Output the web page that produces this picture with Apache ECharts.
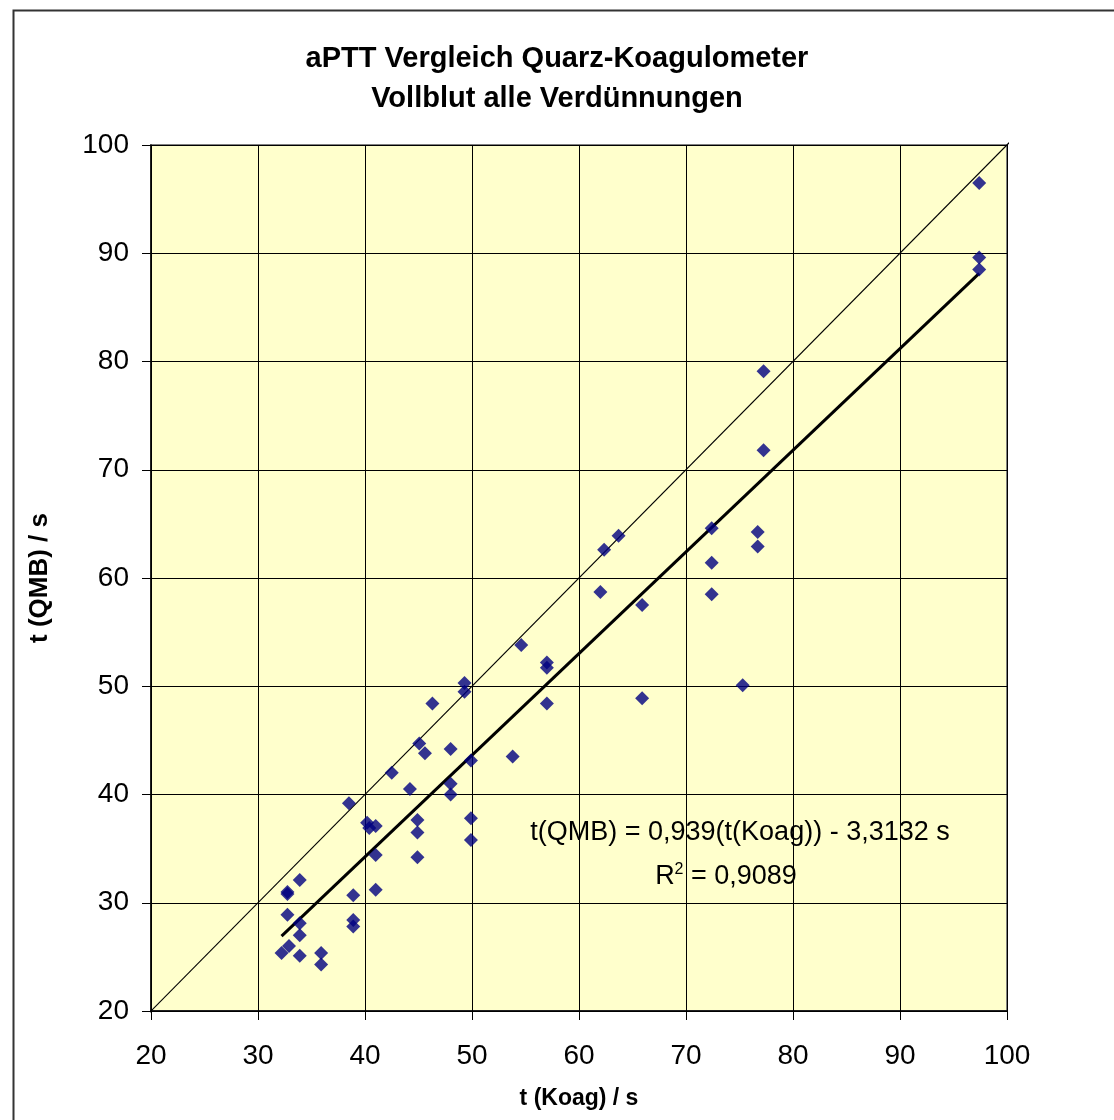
<!DOCTYPE html>
<html lang="de" style="height: 100%">
<head>
  <meta charset="utf-8">
  <title>aPTT Vergleich Quarz-Koagulometer</title>
</head>
<body style="height: 100%; margin: 0; background: #fff">
  <div id="container" style="width: 1114px; height: 1120px"></div>

  <script type="text/javascript" src="https://cdn.jsdelivr.net/npm/echarts@6.0.0/dist/echarts.min.js"></script>

  <script type="text/javascript">
    // t(Koag) in s
    var koag = [
      97.4, 97.4, 97.4, 77.25, 77.25, 63.7, 62.35, 72.4, 76.7, 76.7,
      72.4, 62.0, 65.9, 72.4, 54.6, 57.0, 57.0, 75.3, 57.0, 65.9,
      49.3, 49.3, 46.3, 45.07, 45.6, 48.0, 49.9, 53.8, 42.5, 44.2,
      48.0, 48.0, 38.5, 40.2, 40.4, 41.0, 44.9, 44.9, 49.9, 49.9,
      41.0, 44.9, 33.9, 32.75, 32.75, 38.9, 41.0, 32.75, 33.9, 33.9,
      38.9, 38.9, 32.9, 32.2, 33.9, 35.9, 35.9
    ];
    // t(QMB) in s
    var qmb = [
      96.5, 89.6, 88.5, 79.1, 71.8, 63.9, 62.6, 64.6, 64.25, 62.9,
      61.4, 58.7, 57.5, 58.5, 53.8, 52.2, 51.7, 50.1, 48.4, 48.9,
      50.3, 49.5, 48.4, 44.7, 43.8, 44.2, 43.15, 43.5, 42.0, 40.5,
      41.0, 40.0, 39.2, 37.4, 36.9, 37.1, 37.65, 36.5, 37.8, 35.8,
      34.4, 34.2, 32.1, 31.0, 30.8, 30.7, 31.2, 28.9, 28.1, 27.0,
      28.4, 27.8, 26.0, 25.35, 25.1, 25.35, 24.3
    ];
    var axisTicks = [20, 30, 40, 50, 60, 70, 80, 90, 100];

    // Excel-Trendlinie laut Beschriftung
    var slope = 0.939;
    var intercept = -3.3132;
    var rSquared = '0,9089';

    var points = koag.map(function (x, i) { return [x, qmb[i]]; });
    var xMin = Math.min.apply(null, koag);
    var xMax = Math.max.apply(null, koag);
    var trend = [[xMin, slope * xMin + intercept], [xMax, slope * xMax + intercept]];
    var identity = [[19.4, 19.4], [100.7, 100.7]];

    var dom = document.getElementById('container');
    var myChart = echarts.init(dom, null, { renderer: 'canvas' });

    var font = 'Liberation Sans, Arial, sans-serif';

    var axisCommon = {
      type: 'value',
      min: axisTicks[0],
      max: axisTicks[axisTicks.length - 1],
      interval: 10,
      axisLine: { show: true, lineStyle: { color: '#000', width: 1.5 } },
      axisTick: { show: true, inside: false, length: 9, lineStyle: { color: '#000', width: 1 } },
      splitLine: { show: true, lineStyle: { color: '#000', width: 1 } },
      axisLabel: { color: '#000', fontSize: 28, fontFamily: font },
      nameLocation: 'middle',
      nameTextStyle: { color: '#000', fontWeight: 'bold', fontFamily: font }
    };

    var option = {
      animation: false,
      backgroundColor: '#fff',
      title: {
        text: 'aPTT Vergleich Quarz-Koagulometer\nVollblut alle Verdünnungen',
        left: 'center',
        top: 34,
        textStyle: { color: '#000', fontSize: 29, fontWeight: 'bold', fontFamily: font, lineHeight: 40 }
      },
      grid: {
        left: 151, right: 107, top: 145, bottom: 109,
        containLabel: false,
        outerBoundsMode: 'none',
        show: true,
        backgroundColor: '#FFFFCC',
        borderColor: '#808080',
        borderWidth: 2
      },
      xAxis: Object.assign({}, axisCommon, {
        name: 't (Koag) / s',
        nameGap: 76,
        nameTextStyle: Object.assign({}, axisCommon.nameTextStyle, { fontSize: 23 }),
        axisLabel: Object.assign({}, axisCommon.axisLabel, { margin: 31 })
      }),
      yAxis: Object.assign({}, axisCommon, {
        name: 't (QMB) / s',
        nameGap: 98,
        nameTextStyle: Object.assign({}, axisCommon.nameTextStyle, { fontSize: 26 }),
        axisLabel: Object.assign({}, axisCommon.axisLabel, { margin: 22 })
      }),
      graphic: [
        {
          type: 'rect',
          left: 11, top: 8,
          shape: { width: 1200, height: 1200 },
          style: { fill: 'none', stroke: '#333', lineWidth: 2 },
          z: 100
        },
        {
          type: 'text',
          x: 740,
          y: 833,
          style: {
            text: 't(QMB) = 0,939(t(Koag)) - 3,3132 s',
            fill: '#000', fontSize: 27, fontFamily: font,
            align: 'center', verticalAlign: 'middle'
          },
          z: 100
        },
        {
          type: 'text',
          x: 726,
          y: 877,
          style: {
            rich: {
              n: { fontSize: 27, fontFamily: font, fill: '#000' },
              s: { fontSize: 16, fontFamily: font, fill: '#000', verticalAlign: 'top', padding: [0, 0, 14, 0] }
            },
            text: '{n|R}{s|2}{n| = ' + rSquared + '}',
            align: 'center', verticalAlign: 'middle'
          },
          z: 100
        }
      ],
      series: [
        {
          name: 'Identität',
          type: 'line',
          data: identity,
          clip: false,
          symbol: 'none',
          lineStyle: { color: '#000', width: 1.2 },
          z: 2
        },
        {
          name: 'Trend',
          type: 'line',
          data: trend,
          symbol: 'none',
          lineStyle: { color: '#000', width: 3 },
          z: 3
        },
        {
          name: 'Messwerte',
          type: 'scatter',
          data: points,
          symbol: 'diamond',
          symbolSize: 14,
          itemStyle: { color: '#000080' },
          z: 4
        }
      ]
    };

    myChart.setOption(option);

    window.addEventListener('resize', function () {
      myChart.resize();
    });
  </script>
</body>
</html>
